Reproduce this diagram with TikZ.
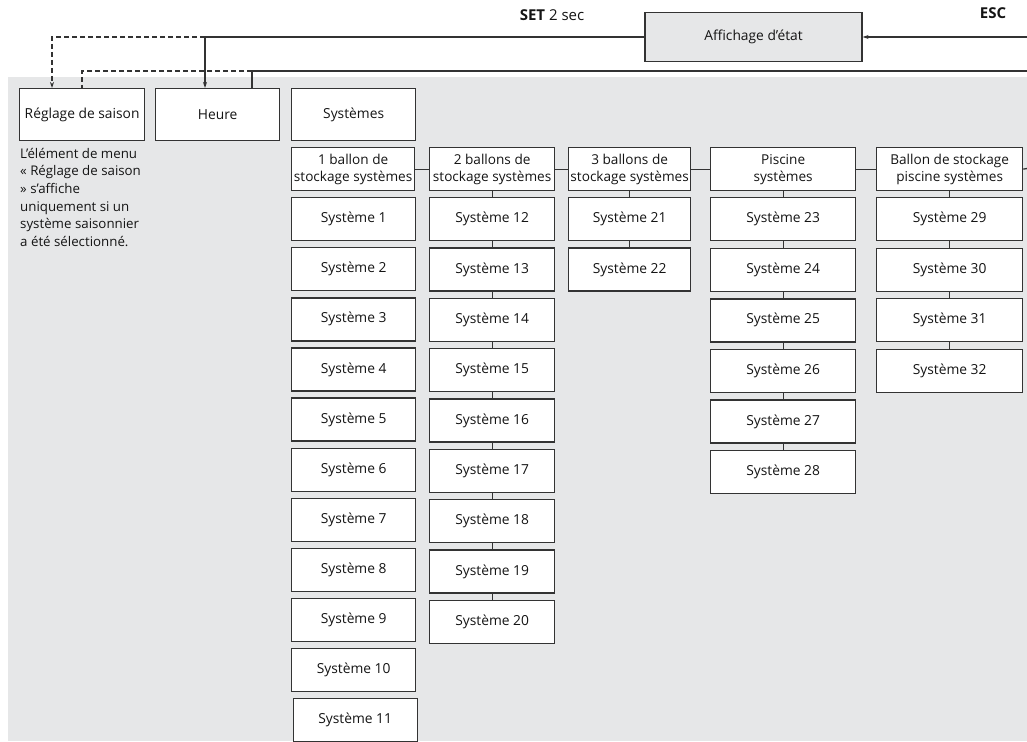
\documentclass[tikz,border=0pt]{standalone}
\usepackage{fontspec}
\setmainfont{Open Sans}
\usetikzlibrary{arrows.meta}
\definecolor{bg}{HTML}{E6E7E8}
\definecolor{ln}{HTML}{333333}
\definecolor{tx}{HTML}{141414}
\begin{document}
\begin{tikzpicture}[x=1pt,y=-1pt,
  every node/.style={font=\fontsize{13.8}{16}\selectfont, text=tx},
  box/.style={draw=ln, line width=1.3pt, fill=white, inner sep=0pt, align=center, anchor=north west},
  topbox/.style={box, minimum height=52pt},
  hdr/.style={box, minimum height=43pt, font=\fontsize{13.6}{17}\selectfont},
  sys/.style={box, minimum height=43pt},
  keylbl/.style={anchor=base, inner sep=0pt, font=\fontsize{15}{17}\selectfont},
  conn/.style={draw=ln, line width=1.3pt},
  arr/.style={conn, -{Stealth[length=6pt,width=4pt]}},
  dsh/.style={conn, dash pattern=on 5pt off 3pt}
]
\useasboundingbox (0,0) rectangle (1027,741);
\fill[bg] (8,77) rectangle (1027,741);

% status display
\node[draw=ln, line width=1.3pt, fill=bg, minimum width=217pt, minimum height=49pt] (aff) at (753.5,37) {Affichage d’état};
\node[keylbl] (setl) at (552,20.5) {\textbf{SET} 2 sec};
\node[keylbl] (escl) at (993,19) {\textbf{ESC}};

% top level boxes
\node[topbox, minimum width=125pt] (reg) at (19,88) {Réglage de saison};
\node[topbox, minimum width=124pt] (heure) at (155,88) {Heure};
\node[topbox, minimum width=124pt] (systemes) at (291,88) {Systèmes};

\node[anchor=north west, align=left, inner sep=0pt, font=\fontsize{13.3}{17.6}\selectfont] (note) at (20,148)
 {L’élément de menu\\« Réglage de saison\\» s’affiche\\uniquement si un\\système saisonnier\\a été sélectionné.};

% connectors at top
\coordinate (a1) at (205,37);
\coordinate (d1) at (52,37);
\coordinate (a2) at (252,71);
\coordinate (d2) at (82,71);
\coordinate (r2) at (1027,71);
\coordinate (esc) at (1027,37);
\draw[conn] (aff.west) -- (a1);
\draw[arr] (a1) -- (a1 |- heure.north);
\draw[dsh, -{Stealth[length=6pt,width=4pt]}] (a1) -- (d1) -- (d1 |- reg.north);
\draw[conn] (r2) -- (a2) -- (a2 |- heure.north);
\draw[dsh] (a2) -- (d2) -- (d2 |- reg.north);
\draw[arr] (esc) -- (aff.east);

% headers
\node[hdr, minimum width=123pt] (h1) at (291,147) {1 ballon de\\stockage systèmes};
\node[hdr, minimum width=125pt] (h2) at (429,147) {2 ballons de\\stockage systèmes};
\node[hdr, minimum width=122pt] (h3) at (568,147) {3 ballons de\\stockage systèmes};
\node[hdr, minimum width=145pt] (h4) at (710,147) {Piscine\\systèmes};
\node[hdr, minimum width=146pt] (h5) at (876,147) {Ballon de stockage\\piscine systèmes};
\coordinate (hend) at (1027,168.5);
\draw[conn] (h1.east) -- (h2.west);
\draw[conn] (h2.east) -- (h3.west);
\draw[conn] (h3.east) -- (h4.west);
\draw[conn] (h4.east) -- (h5.west);
\draw[conn] (h5.east) -- (hend);

% column 1 (no connectors)
\foreach \n in {1,...,10} {
  \node[sys, minimum width=124pt] (s\n) at (291,{197+(\n-1)*50.1}) {Système \n};
}
\node[sys, minimum width=124pt] (s11) at (292.5,698) {Système 11};

% column 2
\foreach \n [count=\i from 0] in {12,...,20} {
  \node[sys, minimum width=125pt] (s\n) at (429,{197+\i*50.35}) {Système \n};
}
\draw[conn] (h2.south) -- (s12.north);
\foreach \a/\b in {12/13,13/14,14/15,15/16,16/17,17/18,18/19,19/20} {
  \draw[conn] (s\a.south) -- (s\b.north);
}

% column 3
\foreach \n [count=\i from 0] in {21,22} {
  \node[sys, minimum width=122pt] (s\n) at (568,{197+\i*50.3}) {Système \n};
}
\draw[conn] (h3.south) -- (s21.north);
\draw[conn] (s21.south) -- (s22.north);

% column 4
\foreach \n [count=\i from 0] in {23,...,28} {
  \node[sys, minimum width=145pt] (s\n) at (710,{197+\i*50.6}) {Système \n};
}
\draw[conn] (h4.south) -- (s23.north);
\foreach \a/\b in {23/24,24/25,25/26,26/27,27/28} {
  \draw[conn] (s\a.south) -- (s\b.north);
}

% column 5
\foreach \n [count=\i from 0] in {29,...,32} {
  \node[sys, minimum width=146pt] (s\n) at (876,{197+\i*50.5}) {Système \n};
}
\draw[conn] (h5.south) -- (s29.north);
\foreach \a/\b in {29/30,30/31,31/32} {
  \draw[conn] (s\a.south) -- (s\b.north);
}
\end{tikzpicture}
\end{document}
